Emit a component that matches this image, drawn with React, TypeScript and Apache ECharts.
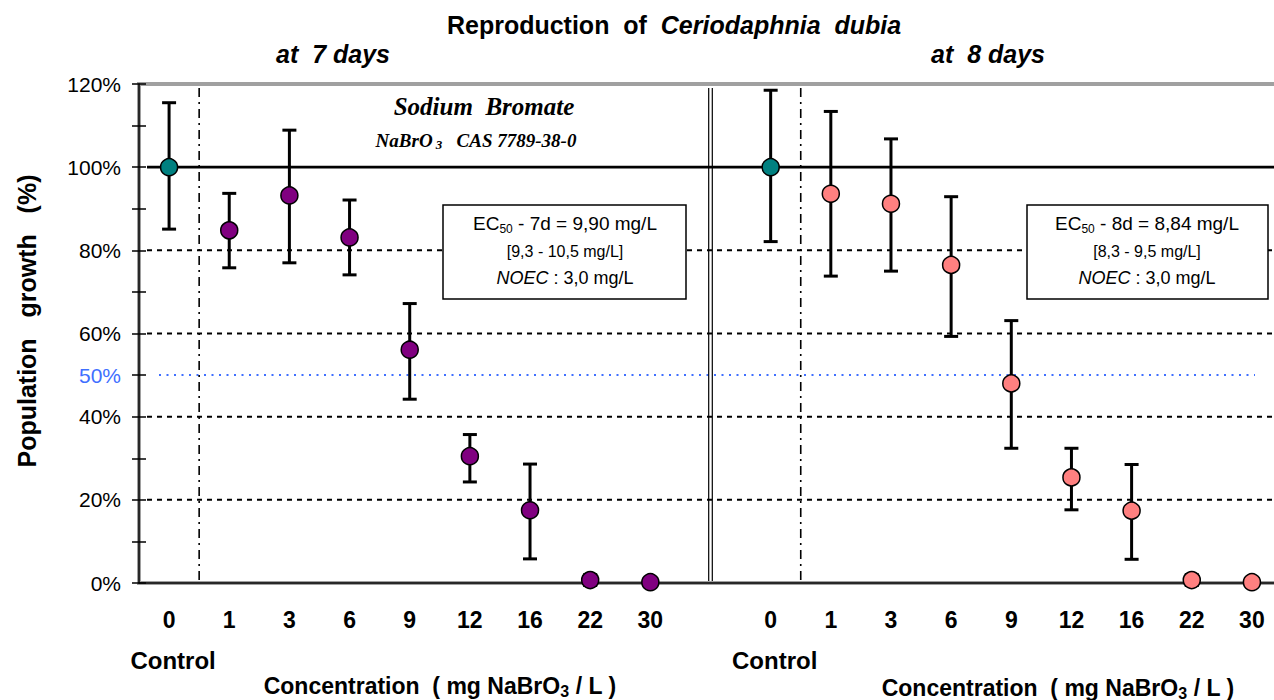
import React, { useEffect, useRef } from 'react';
import * as echarts from 'echarts';

// ---- data ----
const concLabels = ['0', '1', '3', '6', '9', '12', '16', '22', '30'];
const growth7d = [100, 84.8, 93.2, 83.1, 56.1, 30.5, 17.5, 0.7, 0.2];
const err7dLow = [85.1, 75.8, 77.0, 74.1, 44.2, 24.3, 5.8, -0.6, 0.2];
const err7dHigh = [115.5, 93.7, 108.9, 92.1, 67.2, 35.7, 28.6, 2.0, 0.2];
const growth8d = [100, 93.6, 91.2, 76.5, 48.0, 25.4, 17.4, 0.7, 0.2];
const err8dLow = [82.1, 73.8, 75.0, 59.3, 32.4, 17.6, 5.7, -0.6, 0.2];
const err8dHigh = [118.5, 113.4, 106.8, 92.9, 63.1, 32.4, 28.5, 2.0, 0.2];
const gridLevels = [20, 40, 60, 80];
const controlLevel = 100;
const halfLevel = 50;
const yMin = 0;
const yMax = 120;
const yStep = 10;

const FONT = '"Liberation Sans", Arial, sans-serif';
const SERIF = '"Liberation Serif", "Times New Roman", serif';

export default function App() {
  const ref = useRef<HTMLDivElement>(null);
  useEffect(() => {
    if (!ref.current) return;
    const chart = echarts.init(ref.current, null, { renderer: 'svg' });
    const offset = concLabels.length + 1;
    const xCats = [...concLabels, '', ...concLabels];

    const controlData = [[0, growth7d[0]], [offset, growth8d[0]]];
    const data7 = growth7d.slice(1).map((v, i) => [i + 1, v]);
    const data8 = growth8d.slice(1).map((v, i) => [i + 1 + offset, v]);
    const errData = [
      ...growth7d.map((_, i) => [i, err7dLow[i], err7dHigh[i]]),
      ...growth8d.map((_, i) => [i + offset, err8dLow[i], err8dHigh[i]]),
    ];

    const hLine = (style: any, startPad: number, endPad: number) => (params: any, api: any) => {
      const cs = params.coordSys;
      const y = api.coord([0, api.value(1)])[1];
      return {
        type: 'line',
        shape: { x1: cs.x + startPad, y1: y, x2: cs.x + cs.width - endPad, y2: y },
        style,
      };
    };

    const option: any = {
      animation: false,
      backgroundColor: '#fff',
      grid: {
        left: 139,
        top: 84,
        width: 1143,
        height: 499,
        containLabel: false,
        outerBoundsMode: 'none',
        show: true,
        borderColor: '#a0a0a0',
        borderWidth: 4,
        backgroundColor: 'transparent',
      },
      xAxis: {
        type: 'category',
        data: xCats,
        boundaryGap: true,
        axisLine: { lineStyle: { color: '#000', width: 1.5 } },
        axisTick: { show: false },
        splitLine: { show: false },
        axisLabel: {
          interval: 0,
          margin: 23,
          color: '#000',
          fontFamily: FONT,
          fontSize: 23,
          fontWeight: 'bold',
          formatter: (v: string, idx: number) =>
            idx === 0 || idx === offset ? `{v|${v}}\n{c|Control}` : `{v|${v}}`,
          rich: {
            v: { fontFamily: FONT, fontSize: 23, fontWeight: 'bold', lineHeight: 28, color: '#000' },
            c: { fontFamily: FONT, fontSize: 24, fontWeight: 'bold', lineHeight: 52, color: '#000', padding: [0, 0, 0, 8] },
          },
        },
      },
      yAxis: [
        {
          type: 'value',
          min: yMin,
          max: yMax,
          interval: yStep,
          position: 'left',
          axisLine: { show: true, lineStyle: { color: '#000', width: 1.5 } },
          axisTick: { show: true, length: 7, lineStyle: { color: '#000', width: 1.5 } },
          splitLine: { show: false },
          axisLabel: {
            margin: 18,
            color: '#000',
            fontFamily: FONT,
            fontSize: 21,
            formatter: (v: number) =>
              v === halfLevel ? '{b|50%}' : v % 20 === 0 ? `${v}%` : '',
            rich: { b: { color: '#3f6fff', fontFamily: FONT, fontSize: 21 } },
          },
        },
        {
          type: 'value',
          min: yMin,
          max: yMax,
          interval: yStep,
          position: 'right',
          offset: -1143,
          axisLine: { show: false },
          axisTick: { show: true, inside: false, length: 7, lineStyle: { color: '#000', width: 1.5 } },
          axisLabel: { show: false },
          splitLine: { show: false },
        },
      ],
      series: [
        {
          type: 'custom',
          name: 'grid',
          z: 1,
          silent: true,
          data: gridLevels.map((v) => [0, v]),
          encode: { x: 0, y: 1 },
          renderItem: hLine({ stroke: '#000', lineWidth: 2, lineDash: [5, 5] }, 8, 0),
        },
        {
          type: 'custom',
          name: 'half',
          z: 1,
          silent: true,
          data: [[0, halfLevel]],
          encode: { x: 0, y: 1 },
          renderItem: hLine({ stroke: '#3f6fff', lineWidth: 2, lineDash: [2, 5.5] }, 20, 27),
        },
        {
          type: 'custom',
          name: 'separators',
          z: 2,
          silent: true,
          data: [[0, 0], [offset, 0]],
          encode: { x: 0, y: 1 },
          renderItem: (params: any, api: any) => {
            const cs = params.coordSys;
            const x = api.coord([api.value(0), 0])[0] + api.size([1, 0])[0] / 2;
            return {
              type: 'line',
              shape: { x1: x, y1: cs.y + 4, x2: x, y2: cs.y + cs.height },
              style: { stroke: '#000', lineWidth: 1.6, lineDash: [9, 5, 2, 5] },
            };
          },
        },
        {
          type: 'custom',
          name: 'divider',
          z: 2,
          silent: true,
          data: [[offset - 1, 0]],
          encode: { x: 0, y: 1 },
          renderItem: (params: any, api: any) => {
            const cs = params.coordSys;
            const x = api.coord([api.value(0), 0])[0];
            return {
              type: 'group',
              children: [-1.8, 1.8].map((d) => ({
                type: 'line',
                shape: { x1: x + d, y1: cs.y + 4, x2: x + d, y2: cs.y + cs.height - 2 },
                style: { stroke: '#000', lineWidth: 1.2 },
              })),
            };
          },
        },
        {
          type: 'custom',
          name: 'control',
          z: 2,
          silent: true,
          data: [[0, controlLevel]],
          encode: { x: 0, y: 1 },
          renderItem: hLine({ stroke: '#000', lineWidth: 2.8 }, 8, 0),
        },
        {
          type: 'custom',
          name: 'errors',
          z: 3,
          silent: true,
          data: errData,
          encode: { x: 0, y: [1, 2] },
          renderItem: (params: any, api: any) => {
            const xi = api.value(0);
            const lo = api.coord([xi, api.value(1)]);
            const hi = api.coord([xi, api.value(2)]);
            if (Math.abs(lo[1] - hi[1]) < 0.5) return null;
            const w = 7;
            const st = { stroke: '#000', lineWidth: 3 };
            return {
              type: 'group',
              children: [
                { type: 'line', shape: { x1: lo[0], y1: lo[1], x2: hi[0], y2: hi[1] }, style: st },
                { type: 'line', shape: { x1: hi[0] - w, y1: hi[1], x2: hi[0] + w, y2: hi[1] }, style: st },
                { type: 'line', shape: { x1: lo[0] - w, y1: lo[1], x2: lo[0] + w, y2: lo[1] }, style: st },
              ],
            };
          },
        },
        {
          type: 'scatter',
          name: 'Control',
          z: 4,
          symbol: 'circle',
          symbolSize: 17,
          data: controlData,
          itemStyle: { color: '#008080', borderColor: '#000', borderWidth: 1.5, opacity: 1 },
        },
        {
          type: 'scatter',
          name: '7 days',
          z: 4,
          symbol: 'circle',
          symbolSize: 17,
          data: data7,
          itemStyle: { color: '#800080', borderColor: '#000', borderWidth: 1.5, opacity: 1 },
        },
        {
          type: 'scatter',
          name: '8 days',
          z: 4,
          symbol: 'circle',
          symbolSize: 17,
          data: data8,
          itemStyle: { color: '#ff8080', borderColor: '#000', borderWidth: 1.5, opacity: 1 },
        },
      ],
      graphic: [
        {
          type: 'text',
          x: 27,
          y: 321,
          rotation: Math.PI / 2,
          style: {
            text: 'Population   growth   (%)',
            align: 'center',
            verticalAlign: 'middle',
            fontFamily: FONT,
            fontSize: 25,
            fontWeight: 'bold',
            fill: '#000',
          },
        },
        {
          type: 'text',
          x: 674,
          y: 25,
          style: {
            text: '{n|Reproduction  of  }{i|Ceriodaphnia  dubia}',
            align: 'center',
            verticalAlign: 'middle',
            rich: {
              n: { fontFamily: FONT, fontSize: 25, fontWeight: 'bold', fill: '#000' },
              i: { fontFamily: FONT, fontSize: 25, fontWeight: 'bold', fontStyle: 'italic', fill: '#000' },
            },
          },
        },
        ...[
          { x: 333, t: 'at  7 days' },
          { x: 988, t: 'at  8 days' },
        ].map((d) => ({
          type: 'text',
          x: d.x,
          y: 54,
          style: {
            text: d.t,
            align: 'center',
            verticalAlign: 'middle',
            fontFamily: FONT,
            fontSize: 25,
            fontWeight: 'bold',
            fontStyle: 'italic',
            fill: '#000',
          },
        })),
        {
          type: 'text',
          x: 484,
          y: 106,
          z: 10,
          style: {
            text: 'Sodium  Bromate',
            align: 'center',
            verticalAlign: 'middle',
            fontFamily: SERIF,
            fontSize: 25,
            fontWeight: 'bold',
            fontStyle: 'italic',
            fill: '#000',
          },
        },
        {
          type: 'text',
          x: 476,
          y: 140,
          z: 10,
          style: {
            text: '{a|NaBrO}{s| 3}{a|   CAS 7789-38-0}',
            align: 'center',
            verticalAlign: 'middle',
            rich: {
              a: { fontFamily: SERIF, fontSize: 19, fontWeight: 'bold', fontStyle: 'italic', fill: '#000', lineHeight: 22 },
              s: { fontFamily: SERIF, fontSize: 13, fontWeight: 'bold', fontStyle: 'italic', fill: '#000', lineHeight: 22, verticalAlign: 'bottom' },
            },
          },
        },
        ...[
          { cx: 565, left: 443, right: 686, txt: '7d = 9,90', ci: '[9,3 - 10,5 mg/L]' },
          { cx: 1147, left: 1027, right: 1268, txt: '8d = 8,84', ci: '[8,3 - 9,5 mg/L]' },
        ].flatMap((b) => [
          {
            type: 'rect',
            z: 20,
            shape: { x: b.left, y: 205, width: b.right - b.left, height: 94 },
            style: { fill: '#fff', stroke: '#000', lineWidth: 1.5 },
          },
          {
            type: 'text',
            z: 21,
            x: b.cx,
            y: 223,
            style: {
              text: `{a|EC}{s|50}{a| - ${b.txt} mg/L}`,
              align: 'center',
              verticalAlign: 'middle',
              rich: {
                a: { fontFamily: FONT, fontSize: 19, fill: '#000', lineHeight: 24 },
                s: { fontFamily: FONT, fontSize: 12, fill: '#000', lineHeight: 24, verticalAlign: 'bottom' },
              },
            },
          },
          {
            type: 'text',
            z: 21,
            x: b.cx,
            y: 251,
            style: {
              text: b.ci,
              align: 'center',
              verticalAlign: 'middle',
              fontFamily: FONT,
              fontSize: 16,
              fill: '#000',
            },
          },
          {
            type: 'text',
            z: 21,
            x: b.cx,
            y: 278,
            style: {
              text: '{i|NOEC} : 3,0 mg/L',
              align: 'center',
              verticalAlign: 'middle',
              fontFamily: FONT,
              fontSize: 18,
              fill: '#000',
              rich: {
                i: { fontFamily: FONT, fontSize: 18, fontStyle: 'italic', fill: '#000' },
              },
            },
          },
        ]),
        ...[440, 1058].map((cx, k) => ({
          type: 'text',
          x: cx,
          y: k === 0 ? 686 : 688,
          style: {
            text: '{a|Concentration  ( mg NaBrO}{s|3}{a| / L )}',
            align: 'center',
            verticalAlign: 'middle',
            rich: {
              a: { fontFamily: FONT, fontSize: 23, fontWeight: 'bold', fill: '#000', lineHeight: 26 },
              s: { fontFamily: FONT, fontSize: 16, fontWeight: 'bold', fill: '#000', lineHeight: 26, verticalAlign: 'bottom' },
            },
          },
        })),
      ],
    };
    chart.setOption(option);
    return () => chart.dispose();
  }, []);
  return (
    <div
      ref={ref}
      style={{ position: 'absolute', left: 0, top: 0, width: 1274, height: 700, background: '#fff' }}
    />
  );
}
